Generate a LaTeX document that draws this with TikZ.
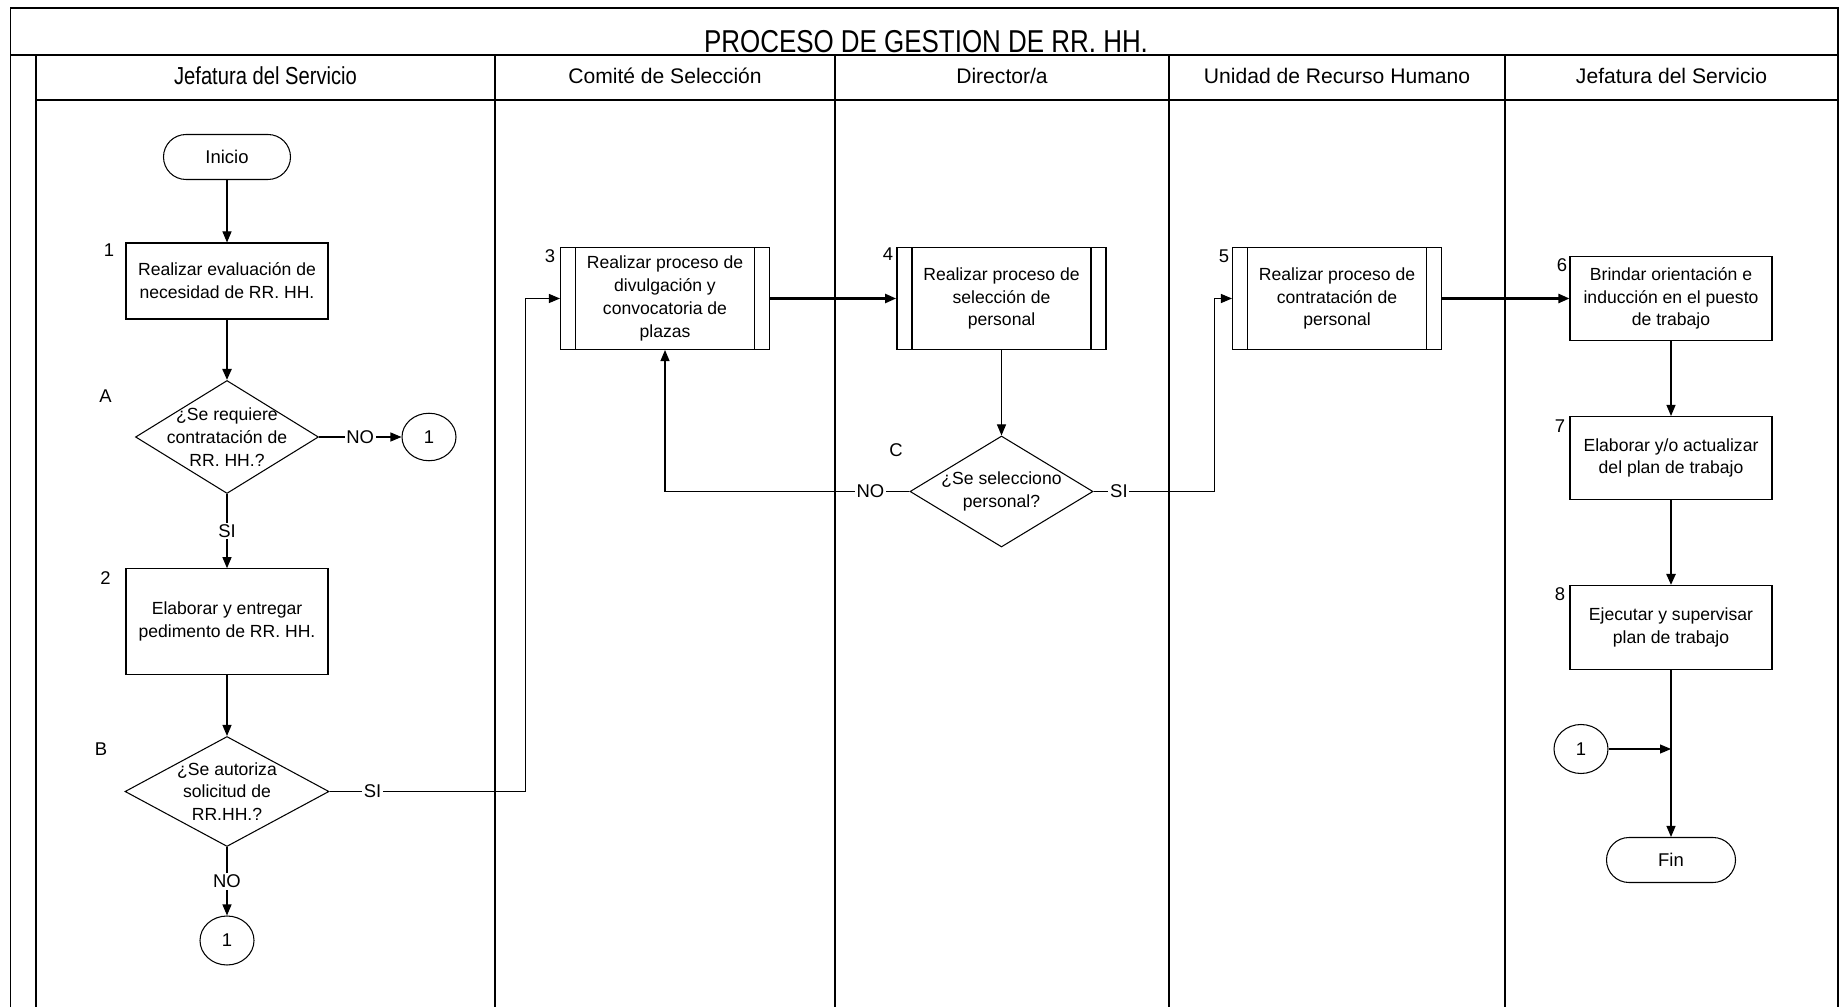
\documentclass[tikz,border=0pt]{standalone}
\usepackage{fontspec}
\setmainfont{Liberation Sans}
\newfontfamily\angosta[FakeStretch=0.82]{Liberation Sans}
\usetikzlibrary{arrows.meta,positioning,shapes.geometric,calc}

\tikzset{
  marco/.style={line width=0.8pt},
  caja/.style={draw, line width=0.6pt, font=\fontsize{10}{13}\selectfont, align=center, inner sep=2pt},
  proceso/.style={caja, minimum width=4.04cm, minimum height=1.68cm},
  subproceso/.style={caja, minimum width=4.18cm, minimum height=2.04cm,
    path picture={
      \draw[line width=0.6pt] ([xshift=0.3cm]path picture bounding box.north west) -- ([xshift=0.3cm]path picture bounding box.south west);
      \draw[line width=0.6pt] ([xshift=-0.3cm]path picture bounding box.north east) -- ([xshift=-0.3cm]path picture bounding box.south east);
    }},
  decision/.style={diamond, draw, line width=0.6pt, font=\fontsize{10}{13}\selectfont, align=center, inner sep=-1.5cm},
  terminal/.style={draw, line width=0.6pt, rounded corners=0.45cm, minimum height=0.9cm, font=\fontsize{10.5}{12}\selectfont},
  conector/.style={ellipse, draw, line width=0.6pt, minimum width=1.08cm, minimum height=0.95cm, inner sep=0pt, font=\fontsize{10.5}{12}\selectfont},
  etiqueta/.style={fill=white, inner sep=1pt, font=\fontsize{10.5}{12}\selectfont},
  numero/.style={font=\fontsize{10.5}{12}\selectfont},
  carril/.style={font=\fontsize{12}{14}\selectfont},
  flecha/.style={-{Triangle[length=0.22cm,width=0.18cm]}, line width=0.6pt},
  flechagruesa/.style={flecha, line width=1.3pt},
}

\begin{document}
\begin{tikzpicture}
  \useasboundingbox (0,0) rectangle (36.78,20.14);

  % marco y carriles
  \draw[marco] (0.21,0) -- (0.21,19.98) -- (36.76,19.98) -- (36.76,0);
  \draw[marco] (0.21,19.04) -- (36.76,19.04);
  \draw[marco] (0.72,19.04) -- (0.72,0);
  \draw[marco] (0.72,18.14) -- (36.76,18.14);
  \foreach \x in {9.90,16.70,23.38,30.10}
    \draw[marco] (\x,19.04) -- (\x,0);

  \node[font=\angosta\fontsize{18}{20}\selectfont, anchor=base, inner sep=0pt] (titulo) at (18.52,19.08) {PROCESO DE GESTION DE RR. HH.};
  \node[font=\angosta\fontsize{14}{16}\selectfont] (h1) at (5.31,18.62) {Jefatura del Servicio};
  \node[carril] (h2) at (13.30,18.62) {Comité de Selección};
  \node[carril] (h3) at (20.04,18.62) {Director/a};
  \node[carril] (h4) at (26.74,18.62) {Unidad de Recurso Humano};
  \node[carril] (h5) at (33.43,18.62) {Jefatura del Servicio};

  % Jefatura del Servicio
  \node[terminal, minimum width=2.54cm] (ini) at (4.54,17.00) {Inicio};
  \node[proceso, minimum height=1.52cm] (b1) at (4.54,14.52) {Realizar evaluación de\\necesidad de RR. HH.};
  \node[decision, minimum width=3.66cm, minimum height=2.26cm] (dA) at (4.54,11.40) {¿Se requiere\\contratación de\\RR. HH.?};
  \node[conector] (c1a) at (8.58,11.40) {1};
  \node[proceso, minimum height=2.11cm] (b2) at (4.54,7.71) {Elaborar y entregar\\pedimento de RR. HH.};
  \node[decision, minimum width=4.08cm, minimum height=2.20cm] (dB) at (4.54,4.31) {¿Se autoriza\\solicitud de\\RR.HH.?};
  \node[conector, minimum height=0.98cm] (c1b) at (4.54,1.33) {1};

  \node[numero] (n1) at (2.18,15.14) {1};
  \node[numero] (lA) at (2.11,12.22) {A};
  \node[numero] (n2) at (2.11,8.58) {2};
  \node[numero] (lB) at (2.02,5.16) {B};

  % Comite, Director/a y Unidad de RR. HH.
  \node[subproceso] (b3) at (13.30,14.17) {Realizar proceso de\\divulgación y\\convocatoria de\\plazas};
  \node[subproceso, line width=1pt] (b4) at (20.03,14.17) {Realizar proceso de\\selección de\\personal};
  \node[decision, minimum width=3.66cm, minimum height=2.22cm] (dC) at (20.03,10.31) {¿Se selecciono\\personal?};
  \node[subproceso] (b5) at (26.74,14.17) {Realizar proceso de\\contratación de\\personal};

  \node[numero] (n3) at (11.00,15.02) {3};
  \node[numero] (n4) at (17.76,15.05) {4};
  \node[numero] (lC) at (17.92,11.14) {C};
  \node[numero] (n5) at (24.48,15.02) {5};

  % Jefatura del Servicio (cierre)
  \node[proceso] (b6) at (33.42,14.17) {Brindar orientación e\\inducción en el puesto\\de trabajo};
  \node[proceso, minimum height=1.66cm] (b7) at (33.42,10.98) {Elaborar y/o actualizar\\del plan de trabajo};
  \node[proceso] (b8) at (33.42,7.59) {Ejecutar y supervisar\\plan de trabajo};
  \node[conector, minimum height=0.98cm] (c1c) at (31.62,5.16) {1};
  \node[terminal, minimum width=2.58cm] (fin) at (33.42,2.94) {Fin};
  \coordinate (union) at (33.42,5.16);

  \node[numero] (n6) at (31.24,14.84) {6};
  \node[numero] (n7) at (31.20,11.62) {7};
  \node[numero] (n8) at (31.20,8.25) {8};

  % conectores
  \draw[flecha] (ini) -- (b1);
  \draw[flechagruesa] (b1) -- (dA);
  \draw[flecha] (dA) -- node[etiqueta]{NO} (c1a);
  \draw[flecha] (dA) -- node[etiqueta]{SI} (b2);
  \draw[flecha] (b2) -- (dB);
  \draw[flecha] (dB) -- node[etiqueta]{NO} (c1b);
  \draw[flecha] (dB.east) -- node[etiqueta, pos=0.22]{SI} ++(3.92,0) |- (b3.west);
  \draw[flechagruesa] (b3) -- (b4);
  \draw[flecha] (b4) -- (dC);
  \draw[flecha] (dC.west) -- node[etiqueta, pos=0.16]{NO} (b3.south |- dC.west) -- (b3.south);
  \draw[flecha] (dC.east) -- node[etiqueta, pos=0.21]{SI} ++(2.42,0) |- (b5.west);
  \draw[flechagruesa] (b5) -- (b6);
  \draw[flecha] (b6) -- (b7);
  \draw[flechagruesa] (b7) -- (b8);
  \draw[flecha] (b8) -- (fin);
  \draw[flecha] (c1c) -- (union);
\end{tikzpicture}
\end{document}
